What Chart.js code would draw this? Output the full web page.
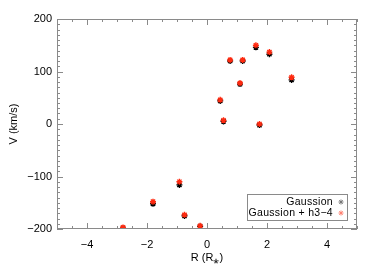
<!DOCTYPE html>
<html>
<head>
<meta charset="utf-8">
<script src="https://cdn.jsdelivr.net/npm/chart.js@4.4.1/dist/chart.umd.min.js"></script>
<style>
  html, body { margin: 0; padding: 0; background: #fff; }
  #wrap { width: 374px; height: 267px; }
</style>
</head>
<body>
<div id="wrap"><canvas id="c" width="374" height="267"></canvas></div>
<script>
const radius = [-2.80, -1.80, -0.92, -0.75, -0.23, 0.44, 0.55, 0.77, 1.10, 1.19, 1.63, 1.75, 2.08, 2.82];
const vGauss = [-199, -152, -116, -175, -195, 44, 5, 120, 76, 120, 146, -2, 133, 84];
const vGaussH34 = [-197, -148, -110, -173, -194, 46, 7, 122, 78, 122, 150, 0, 137, 89];
const xTicks = [-4, -2, 0, 2, 4];
const yTicks = [-200, -100, 0, 100, 200];
const seriesNames = ["Gaussion", "Gaussion + h3\u22124"];

const axisGrey = "#8a8a8a";
const red = "#ff2a10";
const fontFam = "'Liberation Sans', Arial, sans-serif";

function fmt(v) {
  return String(v).replace("-", "\u2212");
}

const pts = (ys) => radius.map((r, i) => ({ x: r, y: ys[i] }));

// IDL-style frame: box on all four sides, ticks pointing inward
const framePlugin = {
  id: "frame",
  afterDraw(chart) {
    const { ctx, chartArea: a } = chart;
    const xs = chart.scales.x, ys = chart.scales.y;
    ctx.save();
    ctx.strokeStyle = axisGrey;
    ctx.lineWidth = 1;
    ctx.strokeRect(a.left + 0.5, a.top + 0.5, a.right - a.left - 1, a.bottom - a.top - 1);
    ctx.beginPath();
    for (let v = -5; v <= 5.001; v += 0.5) {
      const px = Math.round(xs.getPixelForValue(v)) + 0.5;
      const len = Math.abs(v % 2) < 0.001 ? 6 : 3;
      ctx.moveTo(px, a.bottom); ctx.lineTo(px, a.bottom - len);
      ctx.moveTo(px, a.top); ctx.lineTo(px, a.top + len);
    }
    for (let v = -200; v <= 200; v += 10) {
      const py = Math.round(ys.getPixelForValue(v)) + 0.5;
      const len = v % 100 === 0 ? 6 : 3;
      ctx.moveTo(a.left, py); ctx.lineTo(a.left + len, py);
      ctx.moveTo(a.right, py); ctx.lineTo(a.right - len, py);
    }
    ctx.stroke();
    ctx.restore();
  },
};

// legend box in the lower right corner, markers to the right of the text
const legendPlugin = {
  id: "boxLegend",
  afterDraw(chart) {
    const { ctx, chartArea: a } = chart;
    const bx = a.right - 110, by = a.bottom - 35, bw = 100, bh = 26;
    ctx.save();
    ctx.strokeStyle = axisGrey;
    ctx.lineWidth = 1;
    ctx.strokeRect(bx + 0.5, by + 0.5, bw, bh);
    ctx.font = "10.5px " + fontFam;
    ctx.letterSpacing = "0.3px";
    ctx.fillStyle = "#000";
    ctx.textAlign = "right";
    ctx.textBaseline = "middle";
    chart.data.datasets.forEach((ds, i) => {
      const ty = by + 8 + i * 11;
      ctx.fillText(ds.label, bx + bw - 14, ty);
      ctx.strokeStyle = i === 0 ? "#777" : "#ff8070";
      const cx = bx + bw - 6, r = 2.5;
      ctx.beginPath();
      ctx.moveTo(cx - r, ty); ctx.lineTo(cx + r, ty);
      ctx.moveTo(cx, ty - r); ctx.lineTo(cx, ty + r);
      ctx.moveTo(cx - r * 0.7, ty - r * 0.7); ctx.lineTo(cx + r * 0.7, ty + r * 0.7);
      ctx.moveTo(cx - r * 0.7, ty + r * 0.7); ctx.lineTo(cx + r * 0.7, ty - r * 0.7);
      ctx.stroke();
    });
    ctx.restore();
  },
};

new Chart(document.getElementById("c"), {
  type: "scatter",
  data: {
    datasets: [
      {
        label: seriesNames[0],
        data: pts(vGauss),
        pointStyle: "star",
        pointRadius: 3,
        borderColor: "#000",
        backgroundColor: "#000",
        borderWidth: 1.4,
        order: 1,
      },
      {
        label: seriesNames[1],
        data: pts(vGaussH34),
        pointStyle: "star",
        pointRadius: 3,
        borderColor: red,
        backgroundColor: red,
        borderWidth: 1.4,
        order: 0,
      },
    ],
  },
  options: {
    responsive: false,
    animation: false,
    layout: { padding: { top: 19, right: 17, left: 0, bottom: 0 } },
    plugins: { legend: { display: false }, tooltip: { enabled: false } },
    scales: {
      x: {
        type: "linear",
        min: -5,
        max: 5,
        afterBuildTicks: (s) => { s.ticks = xTicks.map((v) => ({ value: v })); },
        afterFit: (s) => { s.height = 38; },
        grid: { display: false, drawTicks: false },
        border: { display: false },
        ticks: { color: "#000", padding: 9, font: { family: fontFam, size: 11 }, callback: fmt },
        title: { display: true, text: "R (R\u204E)", color: "#000", padding: { top: 0, bottom: 2 }, font: { family: fontFam, size: 11 } },
      },
      y: {
        type: "linear",
        min: -200,
        max: 200,
        afterBuildTicks: (s) => { s.ticks = yTicks.map((v) => ({ value: v })); },
        afterFit: (s) => { s.width = 57; },
        grid: { display: false, drawTicks: false },
        border: { display: false },
        ticks: { color: "#000", padding: 5, font: { family: fontFam, size: 11 }, callback: fmt },
        title: { display: true, text: "V (km/s)", color: "#000", padding: 7, font: { family: fontFam, size: 11 } },
      },
    },
  },
  plugins: [framePlugin, legendPlugin],
});
</script>
</body>
</html>
